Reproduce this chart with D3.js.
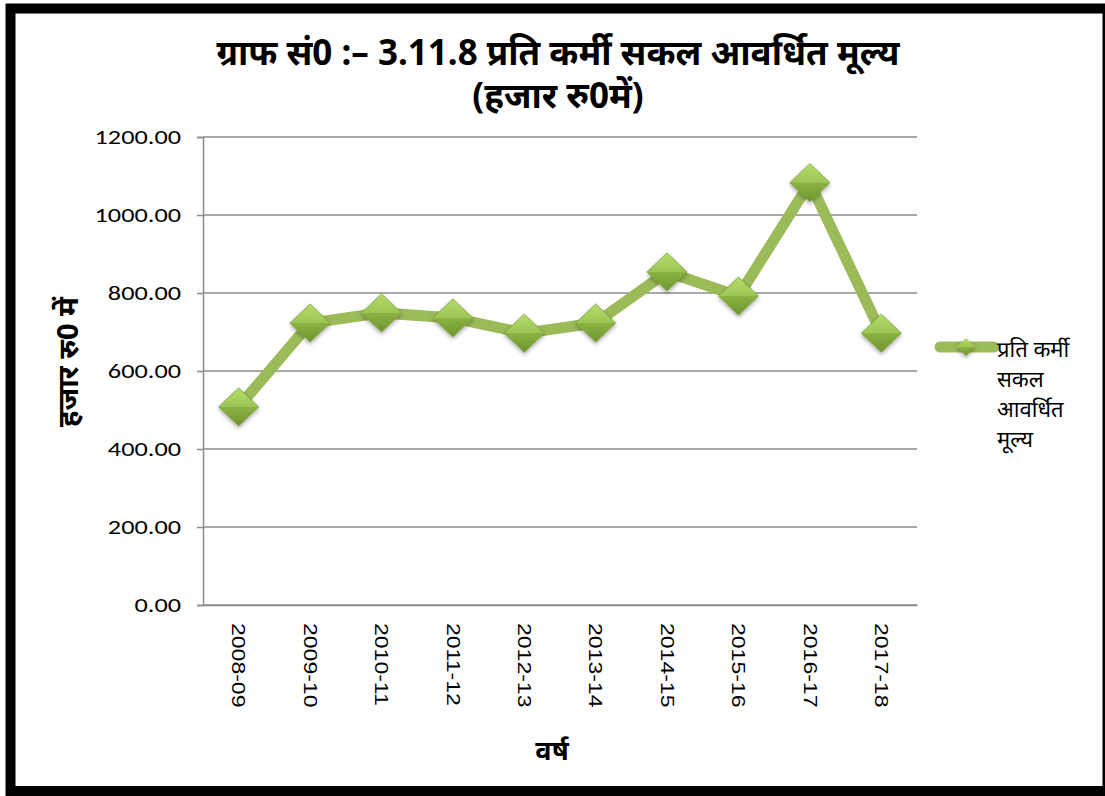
<!DOCTYPE html>
<html><head><meta charset="utf-8">
<script src="https://cdn.jsdelivr.net/npm/d3@7"></script>
<style>body{margin:0;background:#fff}svg{display:block}</style>
</head><body>
<svg id="c" width="1105" height="796"></svg>
<script>
const categories = ["2008-09","2009-10","2010-11","2011-12","2012-13","2013-14","2014-15","2015-16","2016-17","2017-18"];
const values = [508, 723, 749, 736, 697, 723, 854, 792, 1083, 697];
const yTicks = [0,200,400,600,800,1000,1200];
const seriesName = "प्रति कर्मी सकल आवर्धित मूल्य";
const legendLines = ["प्रति कर्मी","सकल","आवर्धित","मूल्य"];
const titleLines = ["ग्राफ सं0 :– 3.11.8 प्रति कर्मी सकल आवर्धित मूल्य","(हजार रु0में)"];
const yLabel = "हजार रु0 में";
const xLabel = "वर्ष";

const svg = d3.select("#c");
const m={l:203,r:917,t:137,b:605};
const green="#9bbb59";

// outer frame
svg.append("rect").attr("x",10.5).attr("y",8.5).attr("width",1097).attr("height",782.5)
  .attr("fill","#fff").attr("stroke","#000").attr("stroke-width",10);

const defs=svg.append("defs");
const g1=defs.append("linearGradient").attr("id","dg").attr("x1",0).attr("y1",0).attr("x2",0).attr("y2",1);
g1.append("stop").attr("offset","0%").attr("stop-color","#b6dc6a");
g1.append("stop").attr("offset","49%").attr("stop-color","#9cc653");
g1.append("stop").attr("offset","51%").attr("stop-color","#8ab342");
g1.append("stop").attr("offset","100%").attr("stop-color","#6f9430");
const f=defs.append("filter").attr("id","sh").attr("x","-50%").attr("y","-50%").attr("width","200%").attr("height","200%");
f.append("feDropShadow").attr("dx",0).attr("dy",2).attr("stdDeviation",2).attr("flood-color","#000").attr("flood-opacity",0.35);

const x=d3.scaleBand().domain(categories).range([m.l,m.r]);
const y=d3.scaleLinear().domain([0,1200]).range([m.b,m.t]);

// gridlines
svg.append("g").selectAll("line").data(yTicks).join("line")
  .attr("x1",m.l).attr("x2",m.r).attr("y1",d=>y(d)).attr("y2",d=>y(d))
  .attr("stroke","#8c8c8c").attr("stroke-width",1.5);

// y axis
const ya=svg.append("g").attr("transform",`translate(${m.l},0)`)
  .call(d3.axisLeft(y).tickValues(yTicks).tickSize(6).tickFormat(d3.format(".2f")));
ya.select(".domain").attr("stroke","#8c8c8c").attr("stroke-width",1.5);
ya.selectAll(".tick line").attr("stroke","#8c8c8c").attr("stroke-width",1.5);
ya.selectAll("text").attr("font-family","Carlito, 'Open Sans', 'Liberation Sans', sans-serif")
  .attr("font-size",21).attr("fill","#000").attr("x",-22/1.25).attr("transform","scale(1.25,1)");

// x axis
const xa=svg.append("g").attr("transform",`translate(0,${m.b})`)
  .call(d3.axisBottom(x).tickSize(0));
xa.select(".domain").attr("stroke","#8c8c8c").attr("stroke-width",1.5);
xa.selectAll("text").attr("font-family","'Liberation Sans', Arial, sans-serif")
  .attr("font-size",18).attr("fill","#000")
  .attr("transform","rotate(90) scale(1.28,1)").attr("text-anchor","start")
  .attr("x",18/1.28).attr("y",0).attr("dy","0.35em");

// line
const line=d3.line().x((d,i)=>x(categories[i])+x.bandwidth()/2).y(d=>y(d));
svg.append("path").datum(values).attr("d",line).attr("fill","none")
  .attr("stroke",green).attr("stroke-width",11).attr("stroke-linejoin","miter").attr("stroke-linecap","butt");

// markers
const diamond=(cx,cy,w,h)=>`M${cx},${cy-h/2}L${cx+w/2},${cy}L${cx},${cy+h/2}L${cx-w/2},${cy}Z`;
svg.append("g").selectAll("path").data(values).join("path")
  .attr("d",(d,i)=>diamond(x(categories[i])+x.bandwidth()/2,y(d),40,38))
  .attr("fill","url(#dg)").attr("stroke","#7c9f3d").attr("stroke-width",0.8).attr("filter","url(#sh)");

// legend
svg.append("line").attr("x1",940).attr("x2",994).attr("y1",347).attr("y2",347)
  .attr("stroke",green).attr("stroke-width",11).attr("stroke-linecap","round");
svg.append("path").attr("d",diamond(966,347,18,18)).attr("fill","url(#dg)").attr("filter","url(#sh)");
svg.append("g").selectAll("text").data(legendLines).join("text")
  .attr("x",997).attr("y",(d,i)=>357+i*30).text(d=>d)
  .attr("font-family","'Noto Sans', sans-serif").attr("font-size",22).attr("fill","#000");

// title
svg.append("g").selectAll("text").data(titleLines).join("text")
  .attr("x",558).attr("y",(d,i)=>65+i*43).attr("text-anchor","middle").text(d=>d)
  .attr("font-family","'Noto Sans', sans-serif").attr("font-weight","bold").attr("font-size",35)
  .attr("fill","#000");

// y label
svg.append("text").attr("transform","translate(78,362) rotate(-90)").attr("text-anchor","middle")
  .text(yLabel).attr("font-family","'Noto Sans', sans-serif").attr("font-weight","bold")
  .attr("font-size",29).attr("fill","#000");

// x label
svg.append("text").attr("x",552).attr("y",760).attr("text-anchor","middle").text(xLabel)
  .attr("font-family","'Noto Sans', sans-serif").attr("font-weight","bold")
  .attr("font-size",27).attr("fill","#000");
</script>
</body></html>
